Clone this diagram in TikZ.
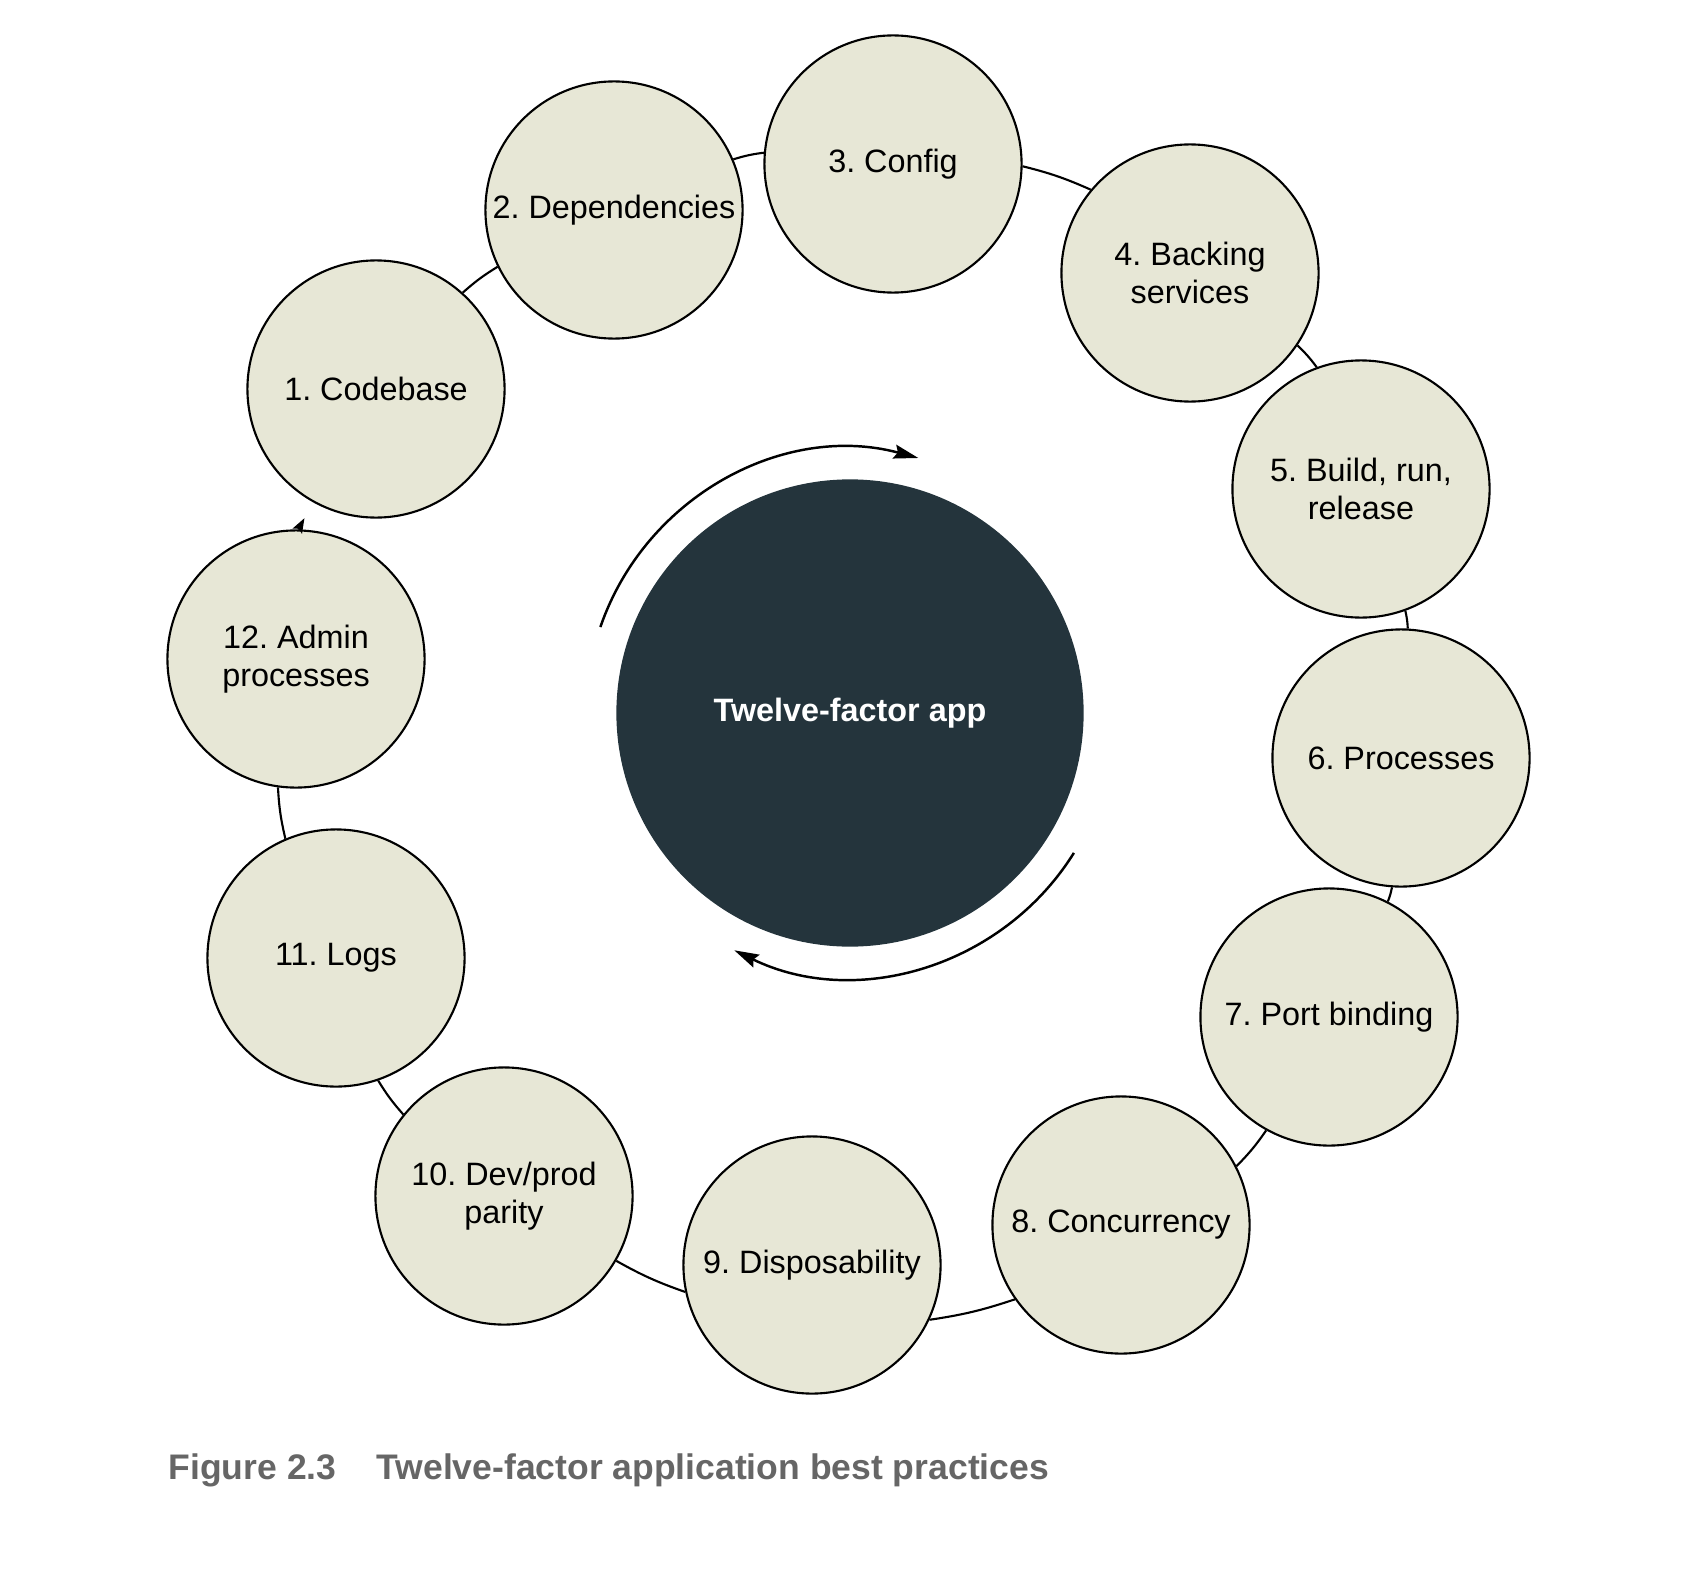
\documentclass[tikz,border=0pt]{standalone}
\usepackage{fontspec}
\setmainfont{Liberation Sans}
\usepackage{xcolor}
\usetikzlibrary{arrows.meta}

\definecolor{fondo}{RGB}{231,231,214}
\definecolor{oscuro}{RGB}{36,52,60}
\definecolor{gris}{RGB}{102,102,102}
\frenchspacing

\begin{document}
\begin{tikzpicture}[x=0.01cm, y=0.01cm,
    factor/.style={draw=black, circle, line width=0.6pt, fill=fondo, minimum size=2.57cm,
        inner sep=0pt, align=center, font=\fontsize{9.2}{10.6}\selectfont},
    arista/.style={line width=0.6pt},
    giro/.style={line width=0.7pt, -{Stealth[length=7pt, width=4pt, inset=1pt]}}]
    \useasboundingbox (0,0) rectangle (1700,-1576);

    % Nodo central
    \node[circle, fill=oscuro, minimum size=4.67cm, text=white,
        font=\bfseries\fontsize{9.2}{11}\selectfont] (app) at (850,-713) {Twelve-factor app};

    % Los doce factores
    \foreach \i/\x/\y/\txt in {1/376/389/{1. Codebase}, 2/614/210/{2. Dependencies},
        3/893/164/{3. Config}, 4/1190/273/{4. Backing\\services},
        5/1361/489/{5. Build, run,\\release}, 6/1401/758/{6. Processes},
        7/1329/1017/{7. Port binding}, 8/1121/1225/{8. Concurrency},
        9/812/1265/{9. Disposability}, 10/504/1196/{10. Dev/prod\\parity},
        11/336/958/{11. Logs}, 12/296/659/{12. Admin\\processes}} {
        \node[factor] (f\i) at (\x,-\y) {\txt};
    }

    % Aristas entre los factores (angulos de salida y llegada)
    \foreach \i/\a/\j/\b in {1/48/2/-154, 2/23/3/175, 3/-1/4/140, 4/-34/5/110,
        5/-70/6/87, 6/-94/7/63, 7/-119/8/27, 8/-145/9/-25, 9/-168/10/-30,
        10/141/11/-71, 11/113/12/-98} {
        \draw[arista] (f\i.\a) to[bend left=5] (f\j.\b);
    }
    \draw[arista, shorten >=0.18cm, -{Stealth[length=4.2pt, width=3pt, inset=0.8pt]}]
        (f12.89) -- (f1.-119);

    % Flechas alrededor del nodo central
    \draw[giro] ([shift={(161:264)}]app.center) arc[start angle=161, end angle=75, radius=264];
    \draw[giro] ([shift={(-32:264)}]app.center) arc[start angle=-32, end angle=-116, radius=264];

    % Pie de figura
    \node[anchor=base west, inner sep=0pt, text=gris, font=\bfseries\fontsize{10.1}{12}\selectfont]
        (pie) at (168,-1479) {Figure 2.3\hspace{11.4pt}Twelve-factor application best practices};
\end{tikzpicture}
\end{document}
